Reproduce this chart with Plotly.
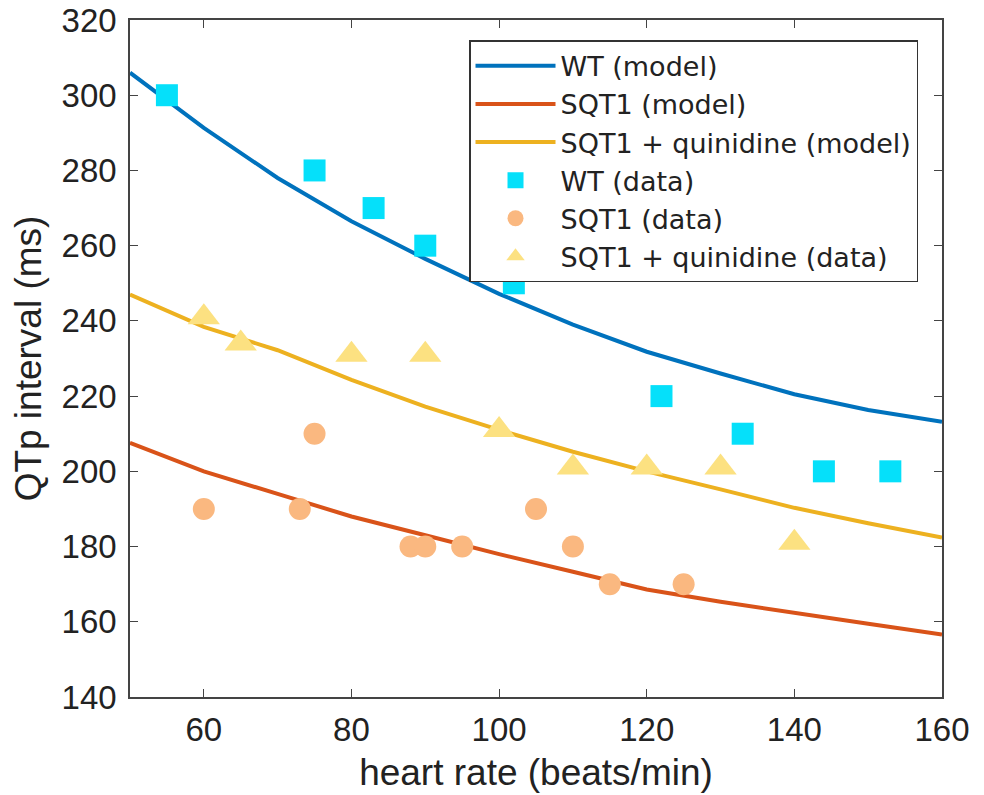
import plotly.graph_objects as go

# model curves
model_hr = [50, 60, 70, 80, 90, 100, 110, 120, 130, 140, 150, 160]
wt_model = [306, 291.3, 278, 266.5, 256.5, 247.2, 239, 231.8, 226, 220.5, 216.3, 213.2]
sqt1_model = [207.6, 200, 194, 188, 183, 178, 173.3, 168.6, 165.3, 162.3, 159.5, 156.6]
quin_model = [247, 238.4, 232.2, 224.3, 217.2, 211, 205.2, 200, 195.2, 190.3, 186.2, 182.4]

# data
wt_hr = [55, 75, 83, 90, 102, 122, 133, 144, 153]
wt_qt = [300, 280, 270, 260, 250, 220, 210, 200, 200]
sqt1_hr = [60, 73, 75, 88, 90, 95, 105, 110, 115, 125]
sqt1_qt = [190, 190, 210, 180, 180, 180, 190, 180, 170, 170]
quin_hr = [60, 65, 80, 90, 100, 110, 120, 130, 140]
quin_qt = [241, 234, 231, 231, 211, 201, 201, 201, 181]

x_ticks = [60, 80, 100, 120, 140, 160]
y_ticks = [140, 160, 180, 200, 220, 240, 260, 280, 300, 320]

FONT = "Liberation Sans, Arial, sans-serif"

fig = go.Figure()
fig.add_trace(go.Scatter(x=model_hr, y=wt_model, mode="lines", name="WT (model)",
                         line=dict(color="#0072BD", width=4)))
fig.add_trace(go.Scatter(x=model_hr, y=sqt1_model, mode="lines", name="SQT1 (model)",
                         line=dict(color="#D95319", width=4)))
fig.add_trace(go.Scatter(x=model_hr, y=quin_model, mode="lines", name="SQT1 + quinidine (model)",
                         line=dict(color="#EDB120", width=4)))
fig.add_trace(go.Scatter(x=wt_hr, y=wt_qt, mode="markers", name="WT (data)",
                         marker=dict(symbol="square", size=22, color="#05E0FA")))
fig.add_trace(go.Scatter(x=sqt1_hr, y=sqt1_qt, mode="markers", name="SQT1 (data)",
                         marker=dict(symbol="circle", size=22, color="#FAB880")))
fig.add_trace(go.Scatter(x=quin_hr, y=quin_qt, mode="markers", name="SQT1 + quinidine (data)",
                         marker=dict(symbol="triangle-up", size=28, color="#FCE181")))

axis_common = dict(showline=True, linecolor="#444", linewidth=1.5, mirror="ticks",
                   ticks="inside", ticklen=8, tickcolor="#444", showgrid=False, zeroline=False,
                   ticklabeloverflow="allow",
                   tickfont=dict(size=33, color="#222", family=FONT))

fig.update_xaxes(range=[50, 160], tickvals=x_ticks, ticklabelstandoff=3,
                 title=dict(text="heart rate (beats/min)", font=dict(size=37, color="#222", family=FONT),
                            standoff=12),
                 **axis_common)
fig.update_yaxes(range=[140, 320], tickvals=y_ticks, ticklabelstandoff=5,
                 title=dict(text="QTp interval (ms)", font=dict(size=37, color="#222", family=FONT),
                            standoff=9),
                 **axis_common)

# the page adds an 8px body margin, so the margins are shifted to compensate
fig.update_layout(
    width=984, height=795,
    margin=dict(l=122, r=50, t=12, b=106, autoexpand=False),
    plot_bgcolor="white", paper_bgcolor="white",
    font=dict(family=FONT, color="#222"),
    legend=dict(x=0.4175, y=0.97, xanchor="left", yanchor="top",
                bgcolor="white", bordercolor="#333", borderwidth=1.5,
                font=dict(size=27, family="DejaVu Sans, sans-serif", color="#222"),
                itemwidth=80),
)

fig.write_html("out.html")
